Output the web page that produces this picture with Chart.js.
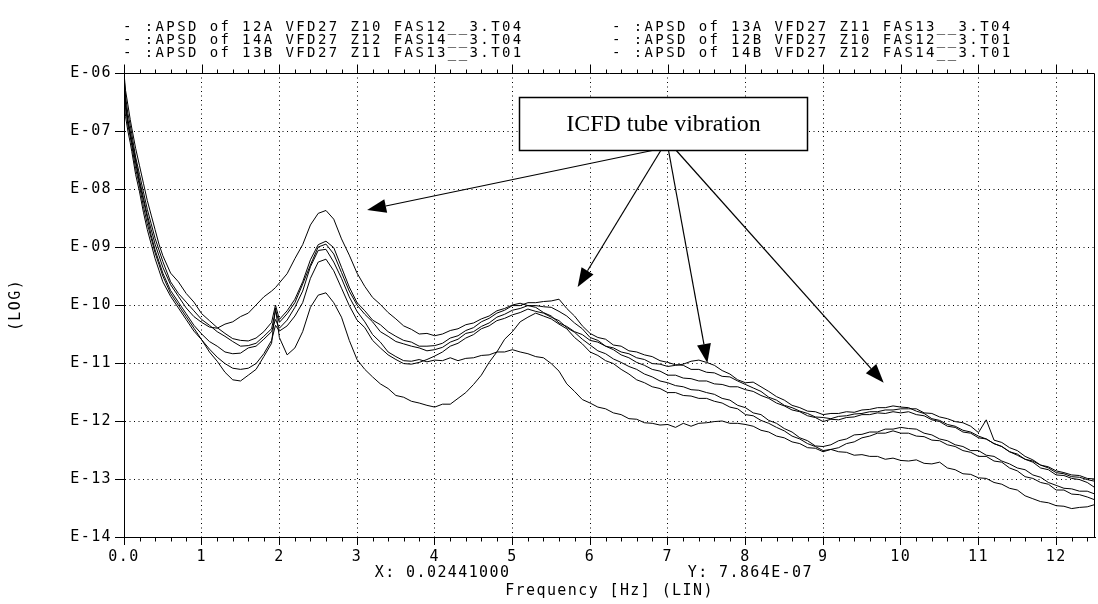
<!DOCTYPE html>
<html>
<head>
<meta charset="utf-8">
<title>APSD</title>
<script src="https://cdn.jsdelivr.net/npm/chart.js@4.4.1/dist/chart.umd.min.js"></script>
<style>
    html, body { margin: 0; padding: 0; background: #fff; }
    canvas { display: block; }
</style>
</head>
<body>
<canvas id="myChart" width="1098" height="604"></canvas>
<script>
// frequency points [Hz]
var freqHz = [0, 0.02, 0.05, 0.08, 0.1, 0.15, 0.2, 0.25, 0.3, 0.35, 0.4, 0.45, 0.5, 0.6, 0.7, 0.8, 0.9,
    1.0, 1.1, 1.2, 1.3, 1.4, 1.5, 1.6, 1.7, 1.8, 1.9, 1.95, 2.0,
    2.1, 2.2, 2.3, 2.4, 2.5, 2.6, 2.7, 2.8, 2.9, 3.0,
    3.1, 3.2, 3.3, 3.4, 3.5, 3.6, 3.7, 3.8, 3.9, 4.0,
    4.1, 4.2, 4.3, 4.4, 4.5, 4.6, 4.7, 4.8, 4.9, 5.0,
    5.1, 5.2, 5.3, 5.4, 5.5, 5.6, 5.7, 5.8, 5.9, 6.0,
    6.1, 6.2, 6.3, 6.4, 6.5, 6.6, 6.7, 6.8, 6.9, 7.0,
    7.1, 7.2, 7.3, 7.4, 7.5, 7.6, 7.7, 7.8, 7.9, 8.0,
    8.1, 8.2, 8.3, 8.4, 8.5, 8.6, 8.7, 8.8, 8.9, 9.0,
    9.1, 9.2, 9.3, 9.4, 9.5, 9.6, 9.7, 9.8, 9.9, 10.0,
    10.1, 10.2, 10.3, 10.4, 10.5, 10.6, 10.7, 10.8, 10.9, 11.0,
    11.1, 11.2, 11.3, 11.4, 11.5, 11.6, 11.7, 11.8, 11.9, 12.0,
    12.1, 12.2, 12.3, 12.4, 12.5];

// APSD values, stored as log10 (decades)
var apsd12A = [-6.1, -6.5, -6.8, -7.0, -7.15, -7.5, -7.85, -8.15, -8.45, -8.7, -8.95, -9.15, -9.35, -9.65, -9.85, -10.05, -10.2,
    -10.3, -10.38, -10.4, -10.33, -10.29, -10.2, -10.14, -10.0, -9.86, -9.76, -9.7, -9.62,
    -9.46, -9.2, -8.96, -8.62, -8.42, -8.37, -8.52, -8.86, -9.14, -9.45,
    -9.68, -9.87, -9.99, -10.13, -10.24, -10.36, -10.42, -10.5, -10.49, -10.53,
    -10.5, -10.44, -10.41, -10.34, -10.31, -10.24, -10.19, -10.1, -10.06, -10.0,
    -9.97, -10.01, -10.04, -10.13, -10.19, -10.31, -10.37, -10.46, -10.51, -10.61,
    -10.64, -10.71, -10.74, -10.81, -10.84, -10.91, -10.94, -11.01, -11.02, -11.06,
    -11.04, -11.02, -10.97, -10.95, -10.99, -11.04, -11.13, -11.19, -11.29, -11.34,
    -11.33, -11.41, -11.49, -11.58, -11.64, -11.73, -11.77, -11.83, -11.84, -11.89,
    -11.87, -11.87, -11.84, -11.85, -11.81, -11.8, -11.77, -11.77, -11.74, -11.76,
    -11.77, -11.83, -11.87, -11.96, -11.99, -12.06, -12.09, -12.16, -12.19, -12.26,
    -12.31, -12.39, -12.44, -12.53, -12.57, -12.66, -12.69, -12.76, -12.79, -12.86,
    -12.89, -12.93, -12.94, -12.99, -13.0];
var apsd13A = [-6.0, -6.3, -6.55, -6.8, -6.95, -7.3, -7.6, -7.9, -8.2, -8.45, -8.7, -8.95, -9.15, -9.45, -9.6, -9.8, -9.95,
    -10.15, -10.27, -10.39, -10.49, -10.58, -10.61, -10.62, -10.57, -10.46, -10.3, -10.0, -10.25,
    -10.1, -9.9, -9.6, -9.22, -8.96, -8.9, -9.01, -9.35, -9.69, -9.96,
    -10.1, -10.26, -10.34, -10.46, -10.54, -10.61, -10.64, -10.71, -10.71, -10.7,
    -10.66, -10.57, -10.53, -10.44, -10.39, -10.29, -10.23, -10.14, -10.09, -10.01,
    -10.01, -9.96, -9.96, -9.94, -9.93, -9.9, -10.06, -10.19, -10.36, -10.49,
    -10.56, -10.59, -10.69, -10.71, -10.79, -10.81, -10.86, -10.89, -10.96, -10.99,
    -11.03, -11.04, -11.11, -11.11, -11.16, -11.17, -11.23, -11.24, -11.31, -11.37,
    -11.43, -11.49, -11.59, -11.64, -11.73, -11.77, -11.83, -11.87, -11.93, -11.94,
    -11.96, -11.92, -11.91, -11.88, -11.87, -11.84, -11.84, -11.81, -11.81, -11.79,
    -11.79, -11.79, -11.86, -11.87, -11.93, -11.96, -12.01, -12.03, -12.09, -12.2,
    -11.98, -12.33, -12.37, -12.46, -12.51, -12.61, -12.67, -12.76, -12.81, -12.89,
    -12.91, -12.96, -12.97, -13.01, -13.04];
var apsd14A = [-6.05, -6.4, -6.7, -6.9, -7.05, -7.45, -7.75, -8.05, -8.35, -8.6, -8.85, -9.05, -9.25, -9.6, -9.8, -9.95, -10.1,
    -10.25, -10.35, -10.46, -10.54, -10.63, -10.71, -10.7, -10.66, -10.54, -10.41, -10.1, -10.3,
    -10.15, -9.96, -9.64, -9.31, -9.0, -8.95, -9.12, -9.44, -9.76, -10.0,
    -10.16, -10.29, -10.46, -10.54, -10.63, -10.67, -10.71, -10.74, -10.79, -10.77,
    -10.73, -10.64, -10.59, -10.49, -10.46, -10.37, -10.31, -10.21, -10.16, -10.09,
    -10.06, -10.01, -10.01, -10.03, -10.04, -10.11, -10.19, -10.31, -10.41, -10.56,
    -10.61, -10.71, -10.77, -10.86, -10.91, -10.99, -11.04, -11.11, -11.14, -11.21,
    -11.21, -11.26, -11.27, -11.31, -11.31, -11.36, -11.37, -11.41, -11.41, -11.46,
    -11.49, -11.56, -11.61, -11.69, -11.74, -11.81, -11.84, -11.91, -11.94, -12.01,
    -11.97, -11.98, -11.94, -11.93, -11.89, -11.89, -11.86, -11.87, -11.84, -11.86,
    -11.84, -11.89, -11.91, -11.98, -12.01, -12.09, -12.11, -12.19, -12.21, -12.29,
    -12.31, -12.39, -12.44, -12.53, -12.59, -12.66, -12.71, -12.81, -12.84, -12.93,
    -12.94, -12.99, -13.01, -13.06, -13.15];
var apsd12B = [-6.3, -6.6, -6.85, -7.05, -7.2, -7.55, -7.9, -8.2, -8.5, -8.8, -9.05, -9.25, -9.45, -9.75, -9.95, -10.15, -10.35,
    -10.5, -10.63, -10.71, -10.81, -10.84, -10.83, -10.74, -10.71, -10.59, -10.46, -10.25, -10.4,
    -10.26, -10.04, -9.76, -9.34, -9.06, -9.04, -9.26, -9.54, -9.86, -10.11,
    -10.29, -10.51, -10.64, -10.81, -10.89, -10.96, -10.97, -10.94, -10.98, -10.95,
    -10.96, -10.91, -10.96, -10.92, -10.91, -10.87, -10.86, -10.81, -10.81, -10.77,
    -10.81, -10.84, -10.89, -10.91, -11.01, -11.14, -11.36, -11.49, -11.63, -11.69,
    -11.76, -11.79, -11.86, -11.89, -11.96, -11.97, -12.03, -12.04, -12.07, -12.06,
    -12.11, -12.04, -12.09, -12.04, -12.03, -12.01, -12.0, -12.04, -12.04, -12.06,
    -12.09, -12.16, -12.19, -12.26, -12.29, -12.36, -12.39, -12.46, -12.47, -12.53,
    -12.49, -12.53, -12.54, -12.59, -12.58, -12.61, -12.61, -12.66, -12.64, -12.68,
    -12.69, -12.67, -12.73, -12.74, -12.71, -12.81, -12.84, -12.91, -12.92, -12.98,
    -12.99, -13.06, -13.09, -13.16, -13.19, -13.29, -13.34, -13.39, -13.41, -13.46,
    -13.47, -13.51, -13.49, -13.48, -13.44];
var apsd13B = [-6.45, -6.75, -7.0, -7.2, -7.35, -7.75, -8.05, -8.4, -8.7, -8.95, -9.2, -9.4, -9.6, -9.85, -10.05, -10.25, -10.45,
    -10.6, -10.76, -10.9, -11.01, -11.09, -11.11, -11.09, -11.01, -10.84, -10.61, -10.35, -10.45,
    -10.36, -10.19, -9.96, -9.54, -9.26, -9.21, -9.41, -9.71, -10.01, -10.26,
    -10.39, -10.61, -10.74, -10.86, -10.94, -11.01, -11.02, -10.99, -10.94, -10.88,
    -10.81, -10.71, -10.66, -10.57, -10.51, -10.41, -10.36, -10.27, -10.23, -10.17,
    -10.13, -10.07, -10.11, -10.14, -10.21, -10.27, -10.39, -10.47, -10.59, -10.69,
    -10.79, -10.84, -10.93, -10.99, -11.06, -11.11, -11.19, -11.24, -11.31, -11.34,
    -11.39, -11.41, -11.46, -11.47, -11.51, -11.54, -11.61, -11.64, -11.73, -11.77,
    -11.86, -11.89, -11.99, -12.04, -12.13, -12.19, -12.29, -12.34, -12.43, -12.44,
    -12.41, -12.34, -12.31, -12.24, -12.23, -12.19, -12.19, -12.14, -12.14, -12.11,
    -12.13, -12.14, -12.21, -12.24, -12.31, -12.34, -12.41, -12.44, -12.51, -12.51,
    -12.59, -12.61, -12.69, -12.74, -12.81, -12.84, -12.93, -12.97, -13.06, -13.11,
    -13.16, -13.17, -13.21, -13.21, -13.26];
var apsd14B = [-6.2, -6.55, -6.9, -7.1, -7.25, -7.65, -7.95, -8.3, -8.6, -8.85, -9.1, -9.3, -9.5, -9.8, -10.0, -10.2, -10.4,
    -10.6, -10.81, -10.97, -11.16, -11.29, -11.31, -11.21, -11.11, -10.89, -10.66, -10.05, -10.56,
    -10.86, -10.74, -10.46, -10.04, -9.83, -9.79, -9.96, -10.21, -10.61, -10.94,
    -11.11, -11.24, -11.36, -11.44, -11.56, -11.59, -11.66, -11.69, -11.73, -11.76,
    -11.71, -11.71, -11.61, -11.51, -11.37, -11.21, -10.99, -10.81, -10.59, -10.46,
    -10.29, -10.21, -10.14, -10.19, -10.24, -10.33, -10.41, -10.56, -10.67, -10.81,
    -10.87, -10.96, -11.01, -11.11, -11.19, -11.29, -11.34, -11.41, -11.44, -11.51,
    -11.51, -11.56, -11.57, -11.61, -11.61, -11.66, -11.69, -11.76, -11.79, -11.89,
    -11.91, -11.99, -12.04, -12.11, -12.17, -12.26, -12.31, -12.39, -12.44, -12.51,
    -12.49, -12.46, -12.39, -12.36, -12.29, -12.26, -12.21, -12.21, -12.17, -12.21,
    -12.21, -12.26, -12.27, -12.33, -12.34, -12.41, -12.44, -12.51, -12.54, -12.61,
    -12.61, -12.69, -12.71, -12.81, -12.86, -12.96, -12.99, -13.06, -13.09, -13.19,
    -13.19, -13.26, -13.27, -13.31, -13.36];

var seriesLabels = ['APSD of 12A VFD27 Z10 FAS12__3.T04', 'APSD of 13A VFD27 Z11 FAS13__3.T04',
    'APSD of 14A VFD27 Z12 FAS14__3.T04', 'APSD of 12B VFD27 Z10 FAS12__3.T01',
    'APSD of 13B VFD27 Z11 FAS13__3.T01', 'APSD of 14B VFD27 Z12 FAS14__3.T01'];
var seriesLogs = [apsd12A, apsd13A, apsd14A, apsd12B, apsd13B, apsd14B];

var xTickLabels = ['0.0', '1', '2', '3', '4', '5', '6', '7', '8', '9', '10', '11', '12'];
var yTickLabels = ['E-06', 'E-07', 'E-08', 'E-09', 'E-10', 'E-11', 'E-12', 'E-13', 'E-14'];

var cursorText = 'X: 0.02441000' + '                 ' + 'Y: 7.864E-07' + '   ';
var calloutText = 'ICFD tube vibration';

var monoFont = '"DejaVu Sans Mono", "Liberation Mono", monospace';
var axisSpacing = '1.4px';
var legendSpacing = '2.4px';

// callout box and arrows, in data units (x in Hz, y in decades)
var callout = { x0: 5.08, x1: 8.79, y0: -6.41, y1: -7.32 };
var arrows = [
    [6.80, 3.13, -8.36],
    [6.91, 5.84, -9.69],
    [7.01, 7.51, -11.0],
    [7.11, 9.78, -11.34]
];

var decor = {
    id: 'decor',
    beforeUpdate: function (chart) { chart.ctx.letterSpacing = axisSpacing; },
    beforeDraw: function (chart) { chart.ctx.letterSpacing = axisSpacing; },
    afterDraw: function (chart) {
        var ctx = chart.ctx;
        var a = chart.chartArea;
        var xs = chart.scales.x;
        var ys = chart.scales.y;
        var top = Math.round(a.top) + 0.5;
        var right = Math.round(a.right) - 0.5;
        var bottom = Math.round(a.bottom) + 0.5;

        ctx.save();
        ctx.setLineDash([]);
        ctx.strokeStyle = '#000';
        ctx.lineWidth = 1;
        ctx.beginPath();
        ctx.moveTo(a.left, top);
        ctx.lineTo(right, top);
        ctx.moveTo(right, top);
        ctx.lineTo(right, bottom);
        for (var i = 0; i <= 62; i++) {
            var px = Math.round(xs.getPixelForValue(i / 5)) + 0.5;
            var major = i % 5 === 0;
            ctx.moveTo(px, top);
            ctx.lineTo(px, top - (major ? 9 : 4));
            if (!major) {
                ctx.moveTo(px, bottom);
                ctx.lineTo(px, bottom + 4);
            }
        }
        ctx.stroke();

        // legend, two columns
        ctx.fillStyle = '#000';
        ctx.font = '14px ' + monoFont;
        ctx.textAlign = 'left';
        ctx.textBaseline = 'middle';
        ctx.letterSpacing = legendSpacing;
        chart.data.datasets.forEach(function (ds, k) {
            var col = k % 2;
            var row = Math.floor(k / 2);
            ctx.fillText('- :' + ds.label, a.left - 1 + col * 489, a.top - 46 + row * 13);
        });

        // callout box
        var bx0 = Math.round(xs.getPixelForValue(callout.x0)) + 0.5;
        var bx1 = Math.round(xs.getPixelForValue(callout.x1)) + 0.5;
        var by0 = Math.round(ys.getPixelForValue(Math.pow(10, callout.y0))) + 0.5;
        var by1 = Math.round(ys.getPixelForValue(Math.pow(10, callout.y1))) + 0.5;
        ctx.fillStyle = '#fff';
        ctx.fillRect(bx0, by0, bx1 - bx0, by1 - by0);
        ctx.lineWidth = 1.5;
        ctx.strokeRect(bx0, by0, bx1 - bx0, by1 - by0);
        ctx.fillStyle = '#000';
        ctx.letterSpacing = '0px';
        ctx.font = '24px "Liberation Serif", "Times New Roman", serif';
        ctx.textAlign = 'center';
        ctx.fillText(calloutText, (bx0 + bx1) / 2, (by0 + by1) / 2 + 1);

        // arrows from the box to the peaks
        ctx.lineWidth = 1.2;
        arrows.forEach(function (ar) {
            var x0 = xs.getPixelForValue(ar[0]);
            var y0 = by1;
            var x1 = xs.getPixelForValue(ar[1]);
            var y1 = ys.getPixelForValue(Math.pow(10, ar[2]));
            var ang = Math.atan2(y1 - y0, x1 - x0);
            var hl = 19, hw = 7;
            var bxp = x1 - hl * Math.cos(ang), byp = y1 - hl * Math.sin(ang);
            ctx.beginPath();
            ctx.moveTo(x0, y0);
            ctx.lineTo(bxp, byp);
            ctx.stroke();
            ctx.beginPath();
            ctx.moveTo(x1, y1);
            ctx.lineTo(bxp + hw * Math.sin(ang), byp - hw * Math.cos(ang));
            ctx.lineTo(bxp - hw * Math.sin(ang), byp + hw * Math.cos(ang));
            ctx.closePath();
            ctx.fill();
        });
        ctx.restore();
    }
};

window.onload = function () {
    var myCanvas = document.getElementById('myChart');
    var ctx = myCanvas.getContext('2d');

    var datasets = seriesLogs.map(function (logs, k) {
        return {
            label: seriesLabels[k],
            data: freqHz.map(function (f, i) { return { x: f, y: Math.pow(10, logs[i]) }; }),
            borderColor: '#000',
            borderWidth: 1,
            pointRadius: 0,
            tension: 0,
            fill: false
        };
    });

    new Chart(ctx, {
        type: 'line',
        data: { datasets: datasets },
        plugins: [decor],
        options: {
            responsive: false,
            animation: false,
            events: [],
            layout: { padding: { top: 73, right: 3, left: 0, bottom: 0 } },
            plugins: {
                legend: { display: false },
                tooltip: { enabled: false }
            },
            scales: {
                x: {
                    type: 'linear',
                    min: 0,
                    max: 12.5,
                    afterFit: function (axis) { axis.height = 67; },
                    ticks: {
                        stepSize: 1,
                        includeBounds: false,
                        maxRotation: 0,
                        autoSkip: false,
                        padding: 3,
                        color: '#000',
                        font: { family: monoFont, size: 15 },
                        callback: function (v) { return xTickLabels[Math.round(v)]; }
                    },
                    grid: { color: '#000', lineWidth: 1, tickLength: 8, tickColor: '#000' },
                    border: { color: '#000', width: 1, dash: [1, 3.5] },
                    title: {
                        display: true,
                        text: [cursorText, 'Frequency [Hz] (LIN)'],
                        color: '#000',
                        font: { family: monoFont, size: 15, lineHeight: 1.2 },
                        padding: { top: 0, bottom: 4 }
                    }
                },
                y: {
                    type: 'logarithmic',
                    min: 1e-14,
                    max: 1e-6,
                    afterFit: function (axis) { axis.width = 124; },
                    afterBuildTicks: function (axis) {
                        axis.ticks = axis.ticks.filter(function (t) {
                            var e = Math.log10(t.value);
                            return Math.abs(e - Math.round(e)) < 1e-6;
                        });
                    },
                    ticks: {
                        padding: 3,
                        autoSkip: false,
                        color: '#000',
                        font: { family: monoFont, size: 15 },
                        callback: function (v) { return yTickLabels[-6 - Math.round(Math.log10(v))]; }
                    },
                    grid: { color: '#000', lineWidth: 1, tickLength: 9, tickColor: '#000' },
                    border: { color: '#000', width: 1, dash: [1, 3.5] },
                    title: {
                        display: true,
                        text: '(LOG)',
                        color: '#000',
                        font: { family: monoFont, size: 15 },
                        padding: { top: 7, bottom: 0 }
                    }
                }
            }
        }
    });
};
</script>
</body>
</html>
